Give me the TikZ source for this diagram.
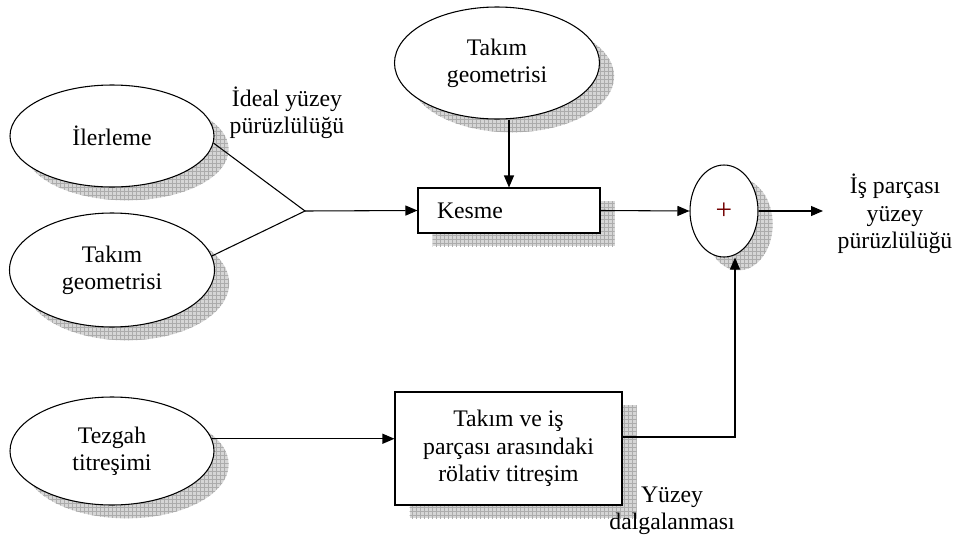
\documentclass[tikz,border=0pt]{standalone}
\usepackage{fontspec}
\setmainfont{Liberation Serif}
\usetikzlibrary{shapes.geometric,shadows,patterns,arrows.meta}
\begin{document}
\begin{tikzpicture}[x=0.75pt,y=-0.75pt,
  font=\fontsize{17.8}{20.5}\selectfont,
  shad/.style={drop shadow={shadow xshift=11pt,shadow yshift=-10pt,opacity=1,fill=gray!32},
               drop shadow={shadow xshift=11pt,shadow yshift=-10pt,opacity=1,pattern=grid,pattern color=gray!65}},
  ell/.style={ellipse,draw,line width=0.8pt,fill=white,inner sep=0pt,align=center,shad},
  box/.style={rectangle,draw,line width=0.8pt,fill=white,align=center,shad},
  lbl/.style={align=center,inner sep=0pt},
  conn/.style={line width=0.8pt},
  arr/.style={conn,-{Triangle[length=9pt,width=7.5pt]}}]
\useasboundingbox (0,0) rectangle (968,543);
\node[ell,minimum width=153pt,minimum height=76.5pt] (il) at (112,136) {İlerleme};
\node[ell,minimum width=153.75pt,minimum height=85.5pt] (tg1) at (112,270) {Takım\\geometrisi};
\node[ell,minimum width=153.75pt,minimum height=84pt] (tg2) at (497,63) {Takım\\geometrisi};
\node[ell,minimum width=153pt,minimum height=81pt] (tz) at (112,451) {Tezgah\\titreşimi};
\node[ell,minimum width=51pt,minimum height=69pt] (sum) at (724,211) {\textcolor{red!45!black}{\fontsize{22}{24}\selectfont +}};
\node[box,minimum height=33.75pt,text width=108pt,inner xsep=14.25pt,align=left] (kes) at (509,210.5) {Kesme};
\node[box,minimum width=170.25pt,minimum height=84.75pt] (rv) at (508.5,448.5) {Takım ve iş\\parçası arasındaki\\rölativ titreşim};
\node[lbl] (ideal) at (287,113) {İdeal yüzey\\pürüzlülüğü};
\node[lbl] (out) at (895,214) {İş parçası\\yüzey\\pürüzlülüğü};
\node[lbl] (yd) at (672,511) {Yüzey\\dalgalanması};
\coordinate (j) at (305,211);
\coordinate (oe) at (823,211);
\coordinate (c) at (735,437);
\draw[conn] (il.-4) -- (j) -- (tg1.8);
\draw[arr] (j) -- (kes.west);
\draw[arr] (kes.north |- tg2.south) -- (kes.north);
\draw[arr] (kes.east) -- (sum.west);
\draw[arr] (sum.east) -- (oe);
\draw[arr] (tz.7) -- (tz.7 -| rv.west);
\draw[arr] (c -| rv.east) -- (c) -- (c |- sum.south);
\end{tikzpicture}
\end{document}
